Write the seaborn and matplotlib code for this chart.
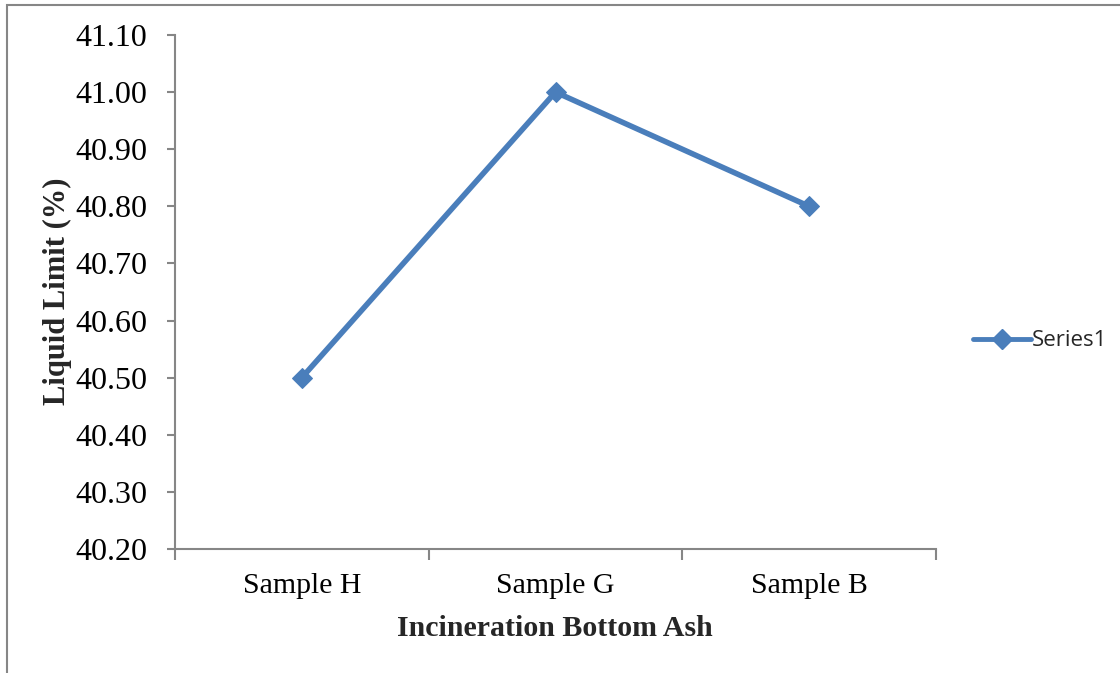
import matplotlib
matplotlib.use("Agg")
import matplotlib.pyplot as plt
import seaborn as sns
import pandas as pd
from matplotlib.patches import Rectangle
from matplotlib.lines import Line2D

categories = ["Sample H", "Sample G", "Sample B"]
values = [40.50, 41.00, 40.80]
series_name = "Series1"
ytick_vals = [40.20, 40.30, 40.40, 40.50, 40.60, 40.70, 40.80, 40.90, 41.00, 41.10]

sns.set_style("white")
plt.rcParams['font.family'] = ['Liberation Serif', 'DejaVu Serif']

df = pd.DataFrame({"cat": categories, "val": values, "pos": range(len(categories))})

fig = plt.figure(figsize=(11.2, 6.73), dpi=100)
ax = fig.add_axes([175/1120, 1 - 549/673, (936-175)/1120, (549-35)/673])

color = "#4A7EBB"
sns.lineplot(data=df, x="pos", y="val", ax=ax, color=color, linewidth=4,
             marker="D", markersize=10.5, markeredgecolor=color, sort=False, legend=False)

ax.set_xlim(-0.5, len(categories) - 0.5)
ax.set_ylim(ytick_vals[0], ytick_vals[-1])
ax.set_yticks(ytick_vals)
ax.set_yticklabels([f"{v:.2f}" for v in ytick_vals], fontsize=23, color="black")
ax.set_xticks(range(len(categories)))
ax.set_xticklabels(categories, fontsize=21.5, color="black")
ax.set_xticks([i - 0.5 for i in range(len(categories) + 1)], minor=True)
ax.tick_params(axis='x', which='major', length=0, pad=17)
ax.tick_params(axis='x', which='minor', length=8, width=1.5, color="#868686", direction='out')
ax.tick_params(axis='y', which='major', length=6, width=1.5, color="#868686", direction='out', pad=14)
ax.tick_params(axis='x', bottom=True, which='minor')
ax.tick_params(axis='y', left=True)

for s in ["top", "right"]:
    ax.spines[s].set_visible(False)
for s in ["left", "bottom"]:
    ax.spines[s].set_color("#868686")
    ax.spines[s].set_linewidth(1.5)

ax.set_xlabel("Incineration Bottom Ash", fontsize=21.5, fontweight='bold')
ax.set_ylabel("Liquid Limit (%)", fontsize=22, fontweight='bold')
ax.xaxis.set_label_coords((555 - 175) / 761, (549 - 628) / 514)
ax.yaxis.set_label_coords((57 - 175) / 761, (549 - 291) / 514)
ax.xaxis.label.set_va('center')
ax.yaxis.label.set_va('center')

handle = Line2D([0], [0], color=color, linewidth=3.5, marker="D", markersize=10.5)
fig.legend([handle], [series_name], loc="center left", bbox_to_anchor=(962/1120, 1 - 341/673),
           frameon=False, prop={'family': 'Open Sans', 'size': 16}, handlelength=2.6,
           handletextpad=0.05, borderpad=0)

fig.patches.append(Rectangle((7/1120, -0.1), 1.2, 1 - 5/673 + 0.1, transform=fig.transFigure,
                             fill=False, edgecolor="#868686", linewidth=1.5))

fig.savefig("out.png", dpi=100)
